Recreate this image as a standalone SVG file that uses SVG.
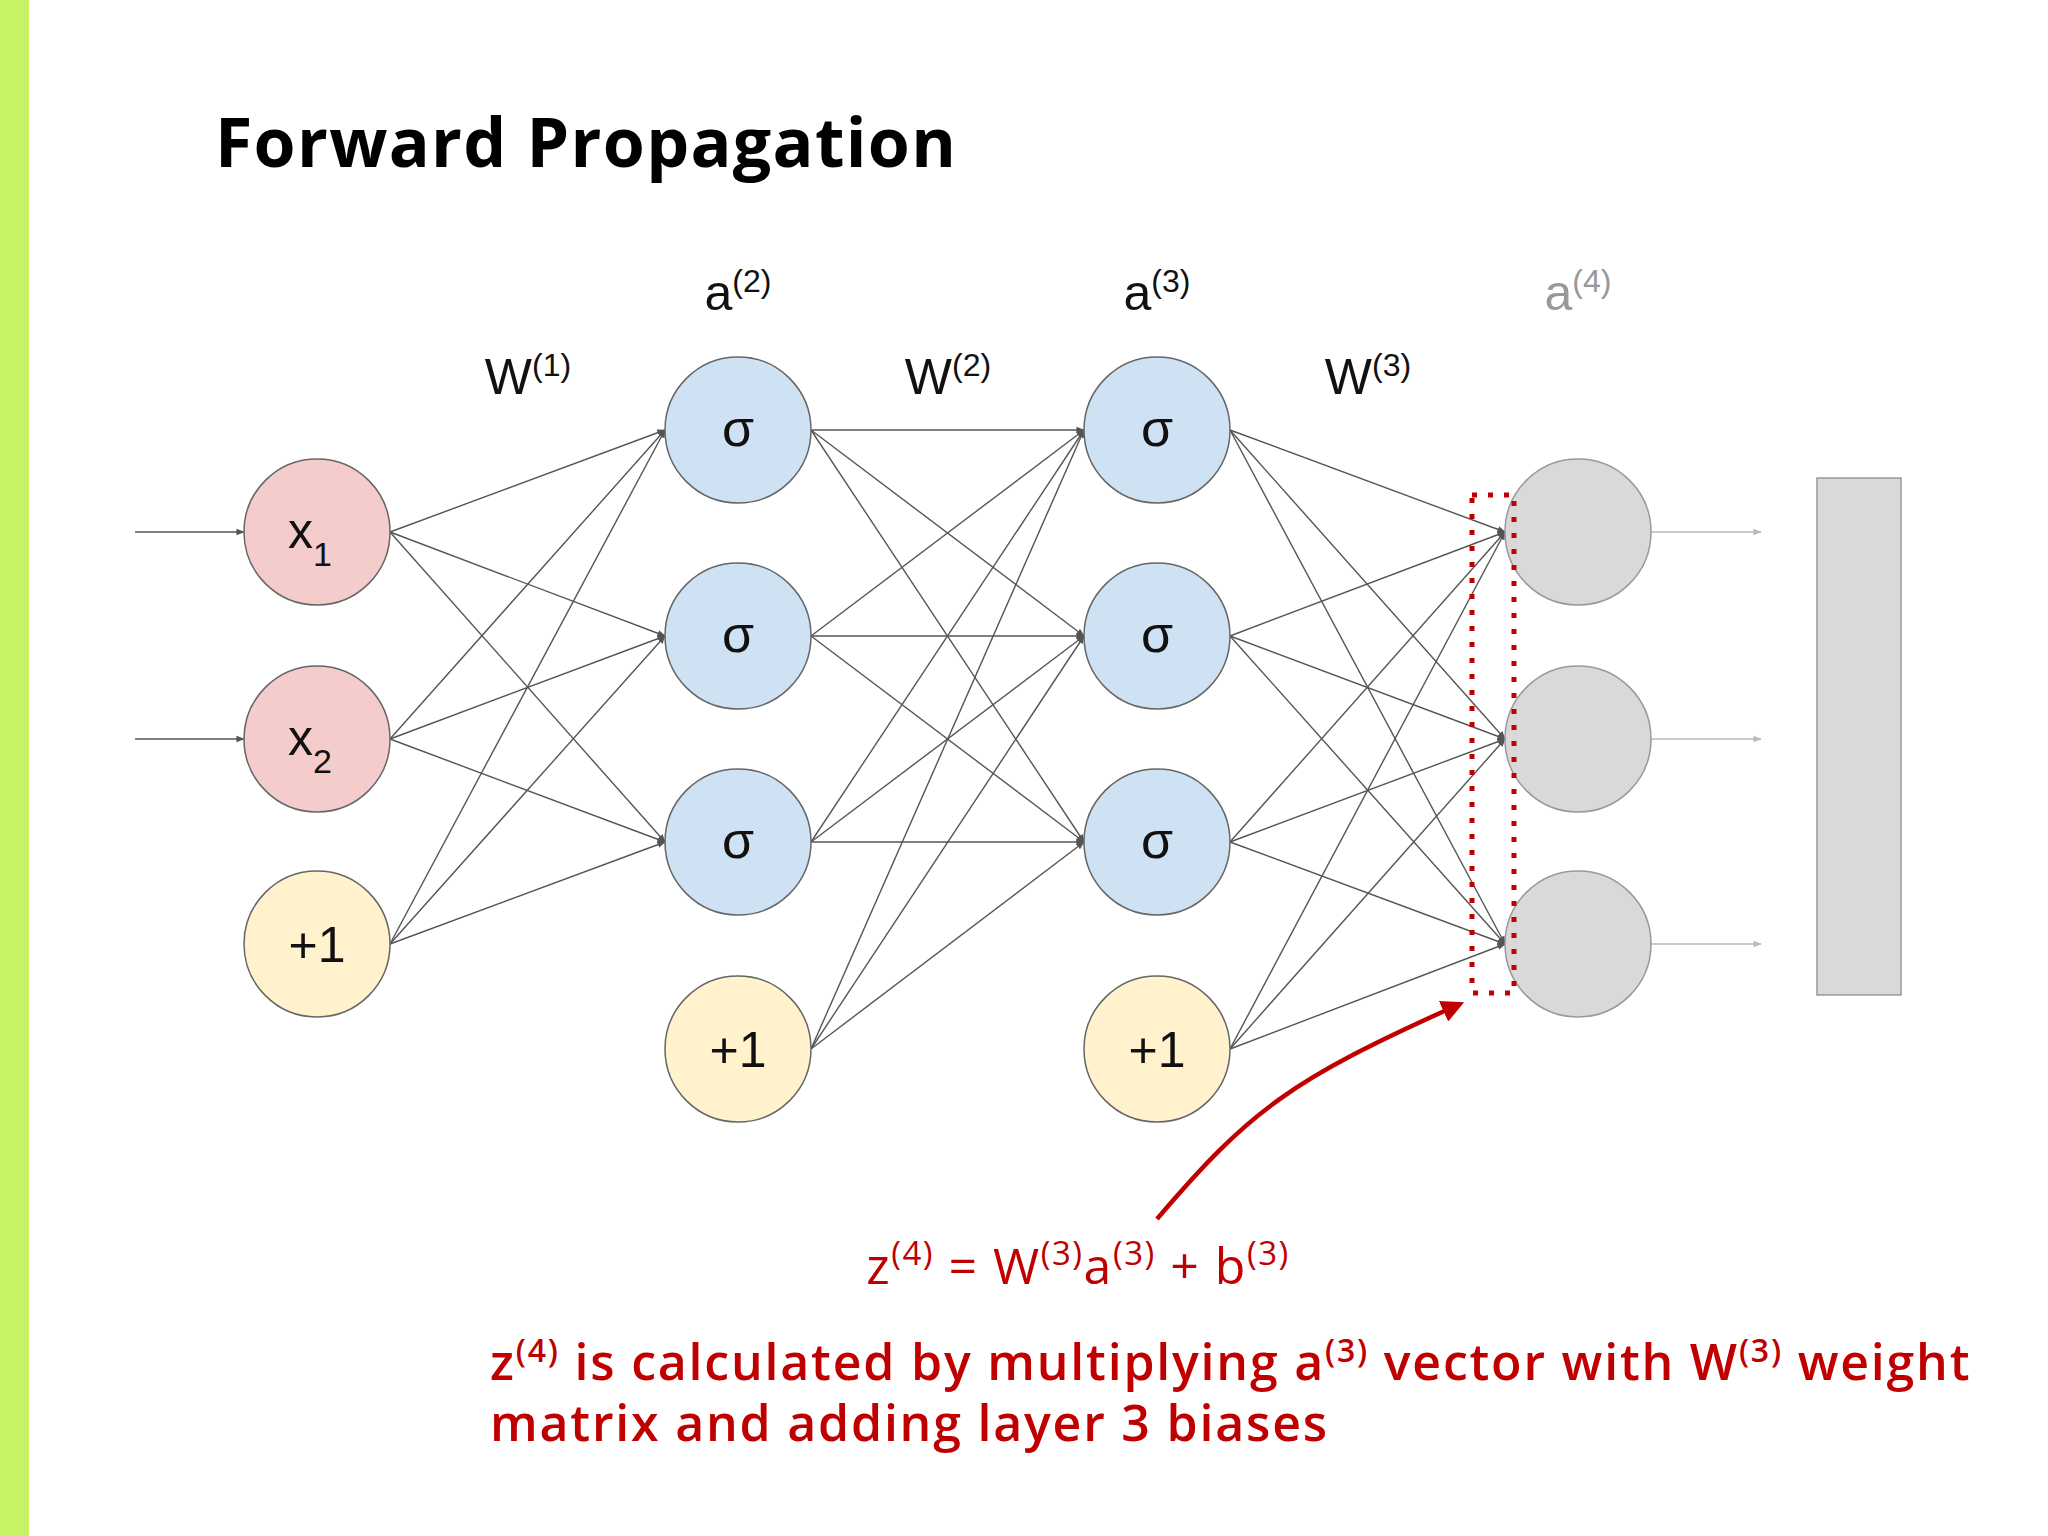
<svg xmlns="http://www.w3.org/2000/svg" width="2048" height="1536" viewBox="0 0 2048 1536">
<defs>
<marker id="ah" viewBox="0 0 10 10" refX="9" refY="5" markerWidth="6" markerHeight="6" orient="auto"><path d="M0,1 L10,5 L0,9 z" fill="#555"/></marker>
<marker id="ahg" viewBox="0 0 10 10" refX="9" refY="5" markerWidth="6" markerHeight="6" orient="auto"><path d="M0,1 L10,5 L0,9 z" fill="#bbb"/></marker>
<marker id="ahr" viewBox="0 0 10 10" refX="8" refY="5" markerWidth="5" markerHeight="5" orient="auto"><path d="M0,0 L10,5 L0,10 z" fill="#c00000"/></marker>
</defs>
<style>
.e{stroke:#555;stroke-width:1.4;fill:none;marker-end:url(#ah)}
.g{stroke:#bbb;stroke-width:1.4;fill:none;marker-end:url(#ahg)}
.t{font-family:"Liberation Sans",Arial,sans-serif;fill:#111}
.in{fill:#f4cccc;stroke:#666;stroke-width:1.5}
.hid{fill:#cfe2f3;stroke:#666;stroke-width:1.5}
.b{fill:#fff2cc;stroke:#666;stroke-width:1.5}
.o{fill:#d9d9d9;stroke:#999;stroke-width:1.5}
.r{font-family:"Open Sans","Liberation Sans",sans-serif;fill:#c00000}
</style>
<rect x="0" y="0" width="2048" height="1536" fill="#fff"/>
<rect x="0" y="0" width="29" height="1536" fill="#c8f266"/>
<text x="215" y="167" font-family="'Open Sans','Liberation Sans',sans-serif" font-weight="bold" font-size="68" letter-spacing="1.3" fill="#000">Forward Propagation</text>

<g id="labels" class="t" font-size="50" text-anchor="middle">
<text x="738" y="310">a<tspan font-size="32" dy="-18">(2)</tspan></text>
<text x="1157" y="310">a<tspan font-size="32" dy="-18">(3)</tspan></text>
<text x="1578" y="310" fill="#999">a<tspan font-size="32" dy="-18">(4)</tspan></text>
<text x="528" y="394">W<tspan font-size="32" dy="-18">(1)</tspan></text>
<text x="948" y="394">W<tspan font-size="32" dy="-18">(2)</tspan></text>
<text x="1368" y="394">W<tspan font-size="32" dy="-18">(3)</tspan></text>
</g>

<g id="connectors">
<line class="e" x1="135" y1="532" x2="244" y2="532"/>
<line class="e" x1="135" y1="739" x2="244" y2="739"/>
<line class="g" x1="1651" y1="532" x2="1761" y2="532"/>
<line class="g" x1="1651" y1="739" x2="1761" y2="739"/>
<line class="g" x1="1651" y1="944" x2="1761" y2="944"/>
<line class="e" x1="390" y1="532" x2="665" y2="430"/><line class="e" x1="390" y1="532" x2="665" y2="636"/><line class="e" x1="390" y1="532" x2="665" y2="842"/>
<line class="e" x1="390" y1="739" x2="665" y2="430"/><line class="e" x1="390" y1="739" x2="665" y2="636"/><line class="e" x1="390" y1="739" x2="665" y2="842"/>
<line class="e" x1="390" y1="944" x2="665" y2="430"/><line class="e" x1="390" y1="944" x2="665" y2="636"/><line class="e" x1="390" y1="944" x2="665" y2="842"/>
<line class="e" x1="811" y1="430" x2="1084" y2="430"/><line class="e" x1="811" y1="430" x2="1084" y2="636"/><line class="e" x1="811" y1="430" x2="1084" y2="842"/>
<line class="e" x1="811" y1="636" x2="1084" y2="430"/><line class="e" x1="811" y1="636" x2="1084" y2="636"/><line class="e" x1="811" y1="636" x2="1084" y2="842"/>
<line class="e" x1="811" y1="842" x2="1084" y2="430"/><line class="e" x1="811" y1="842" x2="1084" y2="636"/><line class="e" x1="811" y1="842" x2="1084" y2="842"/>
<line class="e" x1="811" y1="1049" x2="1084" y2="430"/><line class="e" x1="811" y1="1049" x2="1084" y2="636"/><line class="e" x1="811" y1="1049" x2="1084" y2="842"/>
<line class="e" x1="1230" y1="430" x2="1505" y2="532"/><line class="e" x1="1230" y1="430" x2="1505" y2="739"/><line class="e" x1="1230" y1="430" x2="1505" y2="944"/>
<line class="e" x1="1230" y1="636" x2="1505" y2="532"/><line class="e" x1="1230" y1="636" x2="1505" y2="739"/><line class="e" x1="1230" y1="636" x2="1505" y2="944"/>
<line class="e" x1="1230" y1="842" x2="1505" y2="532"/><line class="e" x1="1230" y1="842" x2="1505" y2="739"/><line class="e" x1="1230" y1="842" x2="1505" y2="944"/>
<line class="e" x1="1230" y1="1049" x2="1505" y2="532"/><line class="e" x1="1230" y1="1049" x2="1505" y2="739"/><line class="e" x1="1230" y1="1049" x2="1505" y2="944"/>
</g>

<g id="x1"><circle class="in" cx="317" cy="532" r="73"/><text class="t" x="310" y="548" font-size="50" text-anchor="middle">x<tspan font-size="34" dy="18">1</tspan></text></g>
<g id="x2"><circle class="in" cx="317" cy="739" r="73"/><text class="t" x="310" y="755" font-size="50" text-anchor="middle">x<tspan font-size="34" dy="18">2</tspan></text></g>
<g id="b1"><circle class="b" cx="317" cy="944" r="73"/><text class="t" x="317" y="962" font-size="50" text-anchor="middle">+1</text></g>
<g id="h21"><circle class="hid" cx="738" cy="430" r="73"/><text class="t" x="738" y="446" font-size="52" text-anchor="middle">σ</text></g>
<g id="h22"><circle class="hid" cx="738" cy="636" r="73"/><text class="t" x="738" y="652" font-size="52" text-anchor="middle">σ</text></g>
<g id="h23"><circle class="hid" cx="738" cy="842" r="73"/><text class="t" x="738" y="858" font-size="52" text-anchor="middle">σ</text></g>
<g id="b2"><circle class="b" cx="738" cy="1049" r="73"/><text class="t" x="738" y="1067" font-size="50" text-anchor="middle">+1</text></g>
<g id="h31"><circle class="hid" cx="1157" cy="430" r="73"/><text class="t" x="1157" y="446" font-size="52" text-anchor="middle">σ</text></g>
<g id="h32"><circle class="hid" cx="1157" cy="636" r="73"/><text class="t" x="1157" y="652" font-size="52" text-anchor="middle">σ</text></g>
<g id="h33"><circle class="hid" cx="1157" cy="842" r="73"/><text class="t" x="1157" y="858" font-size="52" text-anchor="middle">σ</text></g>
<g id="b3"><circle class="b" cx="1157" cy="1049" r="73"/><text class="t" x="1157" y="1067" font-size="50" text-anchor="middle">+1</text></g>
<g id="o1"><circle class="o" cx="1578" cy="532" r="73"/></g>
<g id="o2"><circle class="o" cx="1578" cy="739" r="73"/></g>
<g id="o3"><circle class="o" cx="1578" cy="944" r="73"/></g>
<g id="outbox"><rect class="o" x="1817" y="478" width="84" height="517"/></g>

<g id="annotation">
<rect x="1472" y="495" width="42" height="498" fill="none" stroke="#c00000" stroke-width="5" stroke-dasharray="5,11"/>
<path d="M1157 1219 C1250 1110 1290 1080 1460 1004" fill="none" stroke="#c00000" stroke-width="4.5" marker-end="url(#ahr)"/>
<text class="r" x="1078" y="1284" font-size="50" letter-spacing="1.5" text-anchor="middle">z<tspan font-size="33" dy="-19">(4)</tspan><tspan dy="19"> = W</tspan><tspan font-size="33" dy="-19">(3)</tspan><tspan dy="19">a</tspan><tspan font-size="33" dy="-19">(3)</tspan><tspan dy="19"> + b</tspan><tspan font-size="33" dy="-19">(3)</tspan></text>
<text class="r" x="490" y="1380" font-size="50" font-weight="600" letter-spacing="1.8">z<tspan font-size="32" dy="-18">(4)</tspan><tspan dy="18"> is calculated by multiplying a</tspan><tspan font-size="32" dy="-18">(3)</tspan><tspan dy="18"> vector with W</tspan><tspan font-size="32" dy="-18">(3)</tspan><tspan dy="18"> weight</tspan></text>
<text class="r" x="490" y="1441" font-size="50" font-weight="600" letter-spacing="1.8">matrix and adding layer 3 biases</text>
</g>
</svg>
